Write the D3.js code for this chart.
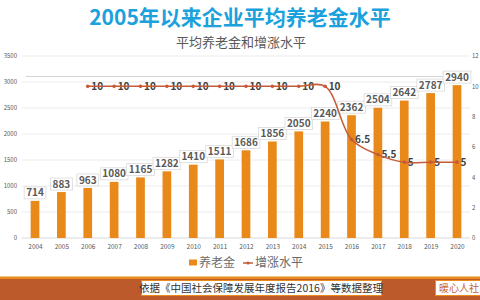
<!DOCTYPE html>
<html>
<head>
<meta charset="utf-8">
<script src="https://cdn.jsdelivr.net/npm/d3@7"></script>
<style>
  html, body { margin: 0; padding: 0; background: #fff; }
  svg { display: block; }
</style>
</head>
<body>
<div id="chart"></div>
<script>
// DATA
const years = ["2004", "2005", "2006", "2007", "2008", "2009", "2010", "2011", "2012",
               "2013", "2014", "2015", "2016", "2017", "2018", "2019", "2020"];
const pension = [714, 883, 963, 1080, 1165, 1282, 1410, 1511, 1686, 1856, 2050, 2240,
                 2362, 2504, 2642, 2787, 2940];
const growth = [null, null, 10, 10, 10, 10, 10, 10, 10, 10, 10, 10, 6.5, 5.5, 5, 5, 5];
const leftTicks = [0, 500, 1000, 1500, 2000, 2500, 3000, 3500];
const rightTicks = [0, 2, 4, 6, 8, 10, 12];

const title = "2005年以来企业平均养老金水平";
const subtitle = "平均养老金和增涨水平";
const seriesNames = ["养老金", "增涨水平"];
const source = "依据《中国社会保障发展年度报告2016》等数据整理";
const brand = "暖心人社";

// SETUP
const W = 480, H = 300;
const barColor = "#e8891a";
const lineColor = "#c65b39";
const font = "'Noto Sans CJK SC', 'Noto Sans', sans-serif";

const svg = d3.select("#chart").append("svg")
    .attr("width", W)
    .attr("height", H);

// Scales
const x = d3.scalePoint().domain(years).range([35, 457]);
const step = x.step();
const barW = step * 0.33;
const yL = d3.scaleLinear().domain([0, 3500]).range([238, 56]);
const yR = d3.scaleLinear().domain([0, 12]).range([238, 56]);

// Titles
svg.append("text")
    .attr("x", 240).attr("y", 25)
    .attr("text-anchor", "middle")
    .attr("font-family", font)
    .attr("font-weight", "bold")
    .attr("font-size", 21)
    .attr("fill", "#1ba1dc")
    .text(title);

svg.append("text")
    .attr("x", 241).attr("y", 47)
    .attr("text-anchor", "middle")
    .attr("font-family", font)
    .attr("font-size", 13)
    .attr("fill", "#595959")
    .text(subtitle);

// Gridlines
svg.append("g")
    .selectAll("line")
    .data(leftTicks)
    .enter().append("line")
    .attr("x1", 22).attr("x2", 470)
    .attr("y1", d => yL(d)).attr("y2", d => yL(d))
    .attr("stroke", d => d === 0 ? "#d9d9d9" : "#ececec")
    .attr("stroke-width", 1);

// extra border line seen in the original
svg.append("line")
    .attr("x1", 26).attr("x2", 470)
    .attr("y1", 76.5).attr("y2", 76.5)
    .attr("stroke", "#d4d4d4");

// Left axis
const axisL = svg.append("g")
    .attr("transform", "translate(17,0)")
    .call(d3.axisLeft(yL).tickValues(leftTicks).tickFormat(d3.format("d")).tickSize(0).tickPadding(0));
axisL.select(".domain").remove();
axisL.selectAll("text")
    .attr("font-family", font)
    .attr("font-size", 6)
    .attr("fill", "#595959");

// Right axis
const axisR = svg.append("g")
    .attr("transform", "translate(472,0)")
    .call(d3.axisRight(yR).tickValues(rightTicks).tickFormat(d3.format("d")).tickSize(0).tickPadding(0));
axisR.select(".domain").remove();
axisR.selectAll("text")
    .attr("font-family", font)
    .attr("font-size", 6)
    .attr("fill", "#595959");

// Bottom axis
const axisB = svg.append("g")
    .attr("transform", "translate(0,244)")
    .call(d3.axisBottom(x).tickSize(0).tickPadding(0));
axisB.select(".domain").remove();
axisB.selectAll("text")
    .attr("font-family", font)
    .attr("font-size", 6.5)
    .attr("fill", "#595959");

// Bars
svg.append("g")
    .selectAll("rect")
    .data(pension)
    .enter().append("rect")
    .attr("x", (d, i) => x(years[i]) - barW / 2)
    .attr("y", d => yL(d))
    .attr("width", barW)
    .attr("height", d => yL(0) - yL(d))
    .attr("fill", barColor);

// Bar labels with boxes
const barLabels = svg.append("g")
    .selectAll("g")
    .data(pension)
    .enter().append("g")
    .attr("transform", (d, i) => `translate(${x(years[i])},${yL(d) - 8})`);

barLabels.append("text")
    .attr("text-anchor", "middle")
    .attr("dy", "0.36em")
    .attr("font-family", font)
    .attr("font-weight", "bold")
    .attr("font-size", 10)
    .attr("fill", "#595959")
    .text(d => d);

barLabels.each(function () {
    const g = d3.select(this);
    const bb = g.select("text").node().getBBox();
    g.insert("rect", "text")
        .attr("x", bb.x - 2)
        .attr("y", -6)
        .attr("width", bb.width + 4)
        .attr("height", 12)
        .attr("fill", "#fff")
        .attr("stroke", "#d9d9d9")
        .attr("stroke-width", 0.8);
});

// Growth line
const lineData = years.map((yr, i) => ({year: yr, value: growth[i]}))
    .filter(d => d.value !== null);

// labels first so the line runs over them like in the original
svg.append("g")
    .selectAll("text")
    .data(lineData)
    .enter().append("text")
    .attr("x", d => x(d.year) + 3.5)
    .attr("y", d => yR(d.value))
    .attr("dy", "0.36em")
    .attr("font-family", font)
    .attr("font-weight", "bold")
    .attr("font-size", 10)
    .attr("fill", "#404040")
    .text(d => d.value);

const line = d3.line()
    .x(d => x(d.year))
    .y(d => yR(d.value))
    .curve(d3.curveCatmullRom.alpha(0.5));

svg.append("path")
    .datum(lineData)
    .attr("d", line)
    .attr("fill", "none")
    .attr("stroke", lineColor)
    .attr("stroke-width", 1.5);

svg.append("g")
    .selectAll("circle")
    .data(lineData)
    .enter().append("circle")
    .attr("cx", d => x(d.year))
    .attr("cy", d => yR(d.value))
    .attr("r", 1.8)
    .attr("fill", lineColor);

// Legend
const legend = svg.append("g").attr("transform", "translate(0,263)");
legend.append("rect")
    .attr("x", 189).attr("y", -3.5)
    .attr("width", 8).attr("height", 6)
    .attr("fill", barColor);
legend.append("text")
    .attr("x", 199).attr("y", 0)
    .attr("dy", "0.36em")
    .attr("font-family", font)
    .attr("font-size", 12)
    .attr("fill", "#6a6a6a")
    .text(seriesNames[0]);
legend.append("line")
    .attr("x1", 243).attr("x2", 253)
    .attr("y1", 0).attr("y2", 0)
    .attr("stroke", lineColor)
    .attr("stroke-width", 1.5);
legend.append("circle")
    .attr("cx", 248).attr("cy", 0).attr("r", 1.6)
    .attr("fill", lineColor);
legend.append("text")
    .attr("x", 255).attr("y", 0)
    .attr("dy", "0.36em")
    .attr("font-family", font)
    .attr("font-size", 12)
    .attr("fill", "#6a6a6a")
    .text(seriesNames[1]);

// Footer band
svg.append("rect")
    .attr("x", 0).attr("y", 277)
    .attr("width", W).attr("height", H - 277)
    .attr("fill", "#bd5a2c");
svg.append("rect")
    .attr("x", 0).attr("y", 276.5)
    .attr("width", W).attr("height", 2.5)
    .attr("fill", "#ea8a1c");

svg.append("rect")
    .attr("x", 141.5).attr("y", 280.5)
    .attr("width", 240).attr("height", 15)
    .attr("fill", "#fff")
    .attr("stroke", "#ea8a1c")
    .attr("stroke-width", 1);
svg.append("text")
    .attr("x", 261).attr("y", 288)
    .attr("dy", "0.36em")
    .attr("text-anchor", "middle")
    .attr("font-family", font)
    .attr("font-size", 10.5)
    .attr("fill", "#333")
    .text(source);

svg.append("rect")
    .attr("x", 435.5).attr("y", 280.5)
    .attr("width", 60).attr("height", 15)
    .attr("fill", "#fff")
    .attr("stroke", "#ea8a1c")
    .attr("stroke-width", 1);
svg.append("text")
    .attr("x", 439).attr("y", 288)
    .attr("dy", "0.36em")
    .attr("font-family", font)
    .attr("font-size", 10)
    .attr("fill", "#c8642e")
    .text(brand);
</script>
</body>
</html>
